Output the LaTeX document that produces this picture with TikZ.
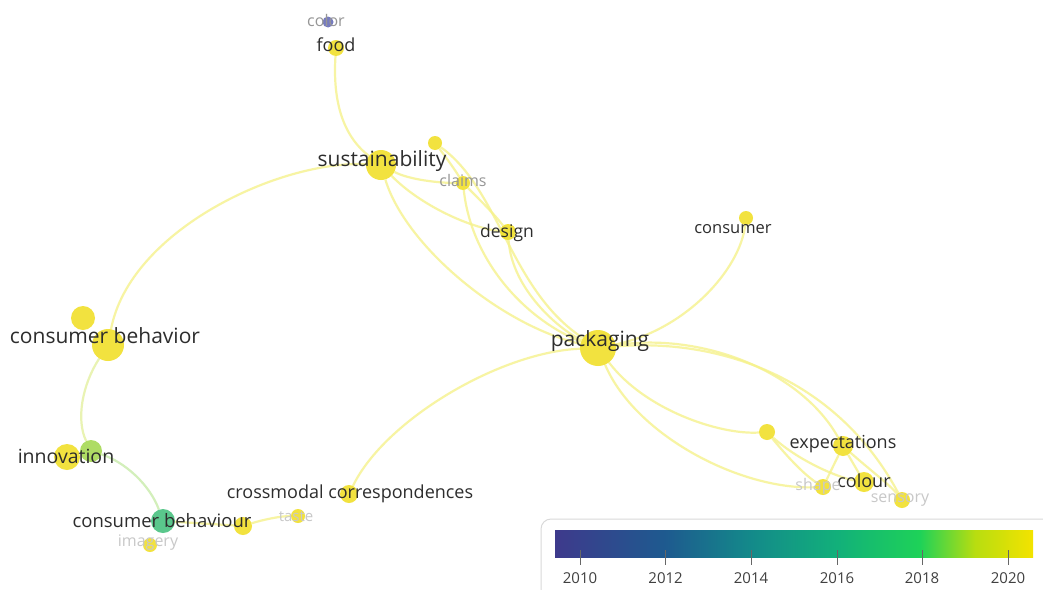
\documentclass[tikz,border=0pt]{standalone}
\usepackage{fontspec}
\setmainfont{Open Sans}
\pgfdeclarelayer{paper}
\pgfdeclarelayer{edges}
\pgfsetlayers{paper,edges,main}
\definecolor{nodeyellow}{RGB}{240,222,30}
\definecolor{edgecol}{RGB}{246,242,140}
\definecolor{edgegreen}{RGB}{200,236,170}
\definecolor{edgelime}{RGB}{228,240,160}
\definecolor{txtdark}{RGB}{45,45,45}
\definecolor{txtgrey}{RGB}{150,150,150}
\definecolor{txtlight}{RGB}{200,200,200}
\definecolor{dotblue}{RGB}{95,100,180}
\definecolor{dotgreen}{RGB}{62,190,120}
\definecolor{dotlime}{RGB}{160,214,74}
\definecolor{vA}{RGB}{62,58,140}
\definecolor{vB}{RGB}{30,90,143}
\definecolor{vC}{RGB}{19,138,138}
\definecolor{vD}{RGB}{18,176,122}
\definecolor{vE}{RGB}{30,210,88}
\definecolor{vF}{RGB}{184,221,16}
\definecolor{vG}{RGB}{243,227,0}
\tikzset{
  dot/.style={circle, inner sep=0pt, minimum size=#1, fill=nodeyellow, fill opacity=0.85, draw=none},
  lbl/.style={inner sep=0pt, text=txtdark, font=\fontsize{#1}{#1}\selectfont},
  glbl/.style={inner sep=0pt, text=txtgrey, font=\fontsize{#1}{#1}\selectfont},
  llbl/.style={inner sep=0pt, text=txtlight, font=\fontsize{#1}{#1}\selectfont},
  edge/.style={draw=edgecol, line width=2.2pt, draw opacity=0.8},
  tickmark/.style={draw=black!60, line width=1pt},
  ticklbl/.style={inner sep=0pt, text=black!75, font=\fontsize{15}{15}\selectfont}
}
\begin{document}
\begin{tikzpicture}[x=1pt,y=-1pt]
\useasboundingbox (0,0) rectangle (1043,589);
\begin{pgfonlayer}{paper}
\fill[white] (0,0) rectangle (1043,589);
\end{pgfonlayer}
% nodes (dots)
\node[dot=11pt, fill=dotblue] (color) at (328,22) {};
\node[dot=16pt] (food) at (336,48) {};
\node[dot=30pt] (sust) at (381,165) {};
\node[dot=14pt] (s2) at (435,143) {};
\node[dot=14pt] (claims) at (463,183) {};
\node[dot=16pt] (design) at (508,232) {};
\node[dot=14pt] (consumer) at (746,218) {};
\node[dot=36pt] (pack) at (598,348) {};
\node[dot=24pt] (cbA) at (83,318) {};
\node[dot=32pt] (cbB) at (108,345) {};
\node[dot=26pt] (innov) at (67,457) {};
\node[dot=22pt, fill=dotlime] (innovG) at (91,451) {};
\node[dot=24pt, fill=dotgreen] (cbour) at (163,521) {};
\node[dot=14pt] (imagery) at (150,545) {};
\node[dot=18pt] (nmid) at (243,526) {};
\node[dot=14pt] (taste) at (298,516) {};
\node[dot=18pt] (cross) at (349,494) {};
\node[dot=16pt] (nexp) at (767,432) {};
\node[dot=20pt] (expect) at (843,446) {};
\node[dot=20pt] (colour) at (864,482) {};
\node[dot=16pt] (shape) at (823,487) {};
\node[dot=16pt] (sensory) at (902,500) {};
% labels
\node[glbl=16] (tcolor) at (326,21) {color};
\node[lbl=18] (tfood) at (336,45) {food};
\node[lbl=21] (tsust) at (382,161) {sustainability};
\node[glbl=16] (tclaims) at (463,180) {claims};
\node[lbl=17.5] (tdesign) at (507,233) {design};
\node[lbl=16.5] (tconsumer) at (733,229) {consumer};
\node[lbl=21] (tpack) at (600,341) {packaging};
\node[lbl=21] (tcb) at (105,336) {consumer behavior};
\node[lbl=19.5] (tinnov) at (66,456) {innovation};
\node[lbl=18.5] (tcbour) at (162,521) {consumer behaviour};
\node[llbl=16] (timagery) at (148,543) {imagery};
\node[lbl=18] (tcross) at (350,494) {crossmodal correspondences};
\node[llbl=15] (ttaste) at (296,517) {taste};
\node[lbl=18] (texpect) at (843,444) {expectations};
\node[lbl=18] (tcolour) at (864,481) {colour};
\node[llbl=16] (tshape) at (818,486) {shape};
\node[llbl=16] (tsensory) at (900,500) {sensory};
% edges
\begin{pgfonlayer}{edges}
\draw[edge] (food) .. controls (332,110) and (348,140) .. (sust);
\draw[edge] (sust) .. controls (280,160) and (130,230) .. (cbB);
\draw[edge, draw=edgelime] (cbB) .. controls (82,385) and (76,420) .. (innovG);
\draw[edge, draw=edgegreen] (innovG) .. controls (125,462) and (150,485) .. (cbour);
\draw[edge] (cbour) -- (nmid);
\draw[edge] (nmid) .. controls (262,520) and (280,516) .. (taste);
\draw[edge] (cross) .. controls (385,420) and (500,352) .. (pack);
\draw[edge] (sust) .. controls (410,180) and (440,183) .. (claims);
\draw[edge] (sust) .. controls (420,205) and (470,228) .. (design);
\draw[edge] (sust) .. controls (405,245) and (500,325) .. (pack);
\draw[edge] (s2) .. controls (448,160) and (455,170) .. (claims);
\draw[edge] (claims) .. controls (480,200) and (495,215) .. (design);
\draw[edge] (claims) .. controls (472,265) and (530,322) .. (pack);
\draw[edge] (design) .. controls (512,290) and (560,330) .. (pack);
\draw[edge] (s2) .. controls (500,190) and (510,290) .. (pack);
\draw[edge] (pack) .. controls (685,330) and (740,270) .. (consumer);
\draw[edge] (pack) .. controls (700,332) and (800,370) .. (expect);
\draw[edge] (pack) .. controls (715,338) and (835,375) .. (sensory);
\draw[edge] (pack) .. controls (645,410) and (720,435) .. (nexp);
\draw[edge] (pack) .. controls (635,435) and (740,490) .. (shape);
\draw[edge] (nexp) .. controls (790,460) and (805,475) .. (shape);
\draw[edge] (nexp) .. controls (800,462) and (840,478) .. (colour);
\draw[edge] (expect) -- (shape);
\draw[edge] (expect) -- (colour);
\draw[edge] (expect) .. controls (870,470) and (890,485) .. (sensory);
\end{pgfonlayer}
% legend
\draw[draw=black!15, fill=white, line width=1pt, rounded corners=10pt] (541,519) rectangle (1060,610);
\shade[left color=vA, right color=vB] (555,530) rectangle (665,557);
\shade[left color=vB, right color=vC] (665,530) rectangle (751,557);
\shade[left color=vC, right color=vD] (751,530) rectangle (837,557);
\shade[left color=vD, right color=vE] (837,530) rectangle (920,557);
\shade[left color=vE, right color=vF] (920,530) rectangle (975,557);
\shade[left color=vF, right color=vG] (975,530) rectangle (1033,557);
\foreach \yr/\xx in {2010/580,2012/665.6,2014/751,2016/837,2018/922,2020/1008}{
  \draw[tickmark] (\xx,550) -- (\xx,565);
  \node[ticklbl] at (\xx,578) {\yr};
}
\end{tikzpicture}
\end{document}
